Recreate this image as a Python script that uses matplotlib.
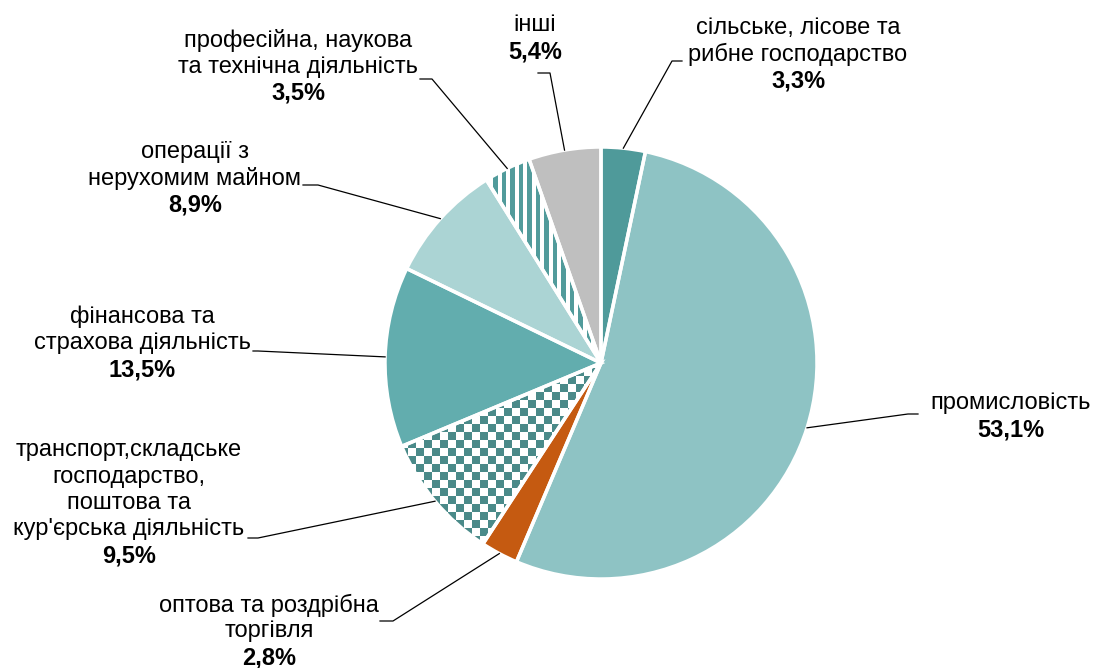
import numpy as np
import matplotlib
matplotlib.use('Agg')
import matplotlib.pyplot as plt

plt.rcParams['font.family'] = ['Liberation Sans', 'DejaVu Sans']

# shares of sectors, clockwise from the top
labels = ['сільське, лісове та\nрибне господарство',
          'промисловість',
          'оптова та роздрібна\nторгівля',
          'транспорт,складське\nгосподарство,\nпоштова та\nкур\'єрська діяльність',
          'фінансова та\nстрахова діяльність',
          'операції з\nнерухомим майном',
          'професійна, наукова\nта технічна діяльність',
          'інші']
values = [3.3, 53.1, 2.8, 9.5, 13.5, 8.9, 3.5, 5.4]
colors = ['#4F9A9A', '#8EC3C4', '#C55A11', 'white', '#62ADAE', '#ABD4D4', 'white', '#BFBFBF']

W, H = 1096, 668
cx, cy, r = 601, 363, 216   # pie centre/radius in pixels (y from top)

# label layout: centre x, y of first line, end of leader line (x, y), leader tail x
lab_pos = [(798, 28, 672, 61, 682),
           (1011, 403, 908, 414, 918),
           (269, 605, 393, 621, 380),
           (129, 450, 258, 538, 248),
           (142, 317, 258, 351, 253),
           (195, 152, 318, 185, 303),
           (298, 40, 432, 79, 420),
           (535, 25, 550, 73, 538)]

fig = plt.figure(figsize=(W / 100, H / 100), dpi=100)
ax = fig.add_axes([0, 0, 1, 1])

wedges, _ = ax.pie(values, colors=colors, startangle=90, counterclock=False,
                   center=(cx, H - cy), radius=r,
                   wedgeprops=dict(linewidth=0, zorder=1))

# patterned fills clipped to their wedges
yy, xx = np.mgrid[0:H, 0:W]
checker = ((xx // 8) + (yy // 8)) % 2 == 0
stripes = (xx % 8.5) < 4.5

def pattern_img(mask, col):
    rgb = np.array(matplotlib.colors.to_rgb(col))
    img = np.ones((H, W, 3))
    img[mask] = rgb
    return img

for idx, mask, col in [(3, checker, '#4A8A89'), (6, stripes, '#519B9B')]:
    im = ax.imshow(pattern_img(mask, col), extent=(0, W, 0, H), origin='upper',
                   interpolation='nearest', zorder=2)
    im.set_clip_path(wedges[idx])

# white borders on top
ax.pie(values, startangle=90, counterclock=False, center=(cx, H - cy), radius=r,
       wedgeprops=dict(facecolor='none', edgecolor='white', linewidth=2.5, zorder=3))

# labels with leader lines
for w, lab, val, (tx, ty, ex, ey, hx) in zip(wedges, labels, values, lab_pos):
    ang = np.deg2rad((w.theta1 + w.theta2) / 2)
    sx = cx + r * np.cos(ang)
    sy = H - cy + r * np.sin(ang)
    ax.plot([sx, ex, hx], [sy, H - ey, H - ey], color='black', linewidth=0.9, zorder=4)
    lines = lab.split('\n')
    for k, line in enumerate(lines):
        ax.text(tx, H - (ty + 26.5 * k), line, ha='center', va='center', fontsize=17)
    pct = ('%.1f%%' % val).replace('.', ',')
    ax.text(tx, H - (ty + 26.5 * len(lines)), pct, ha='center', va='center',
            fontsize=17, fontweight='bold')

ax.set_xlim(0, W)
ax.set_ylim(0, H)
ax.set_aspect('auto')
ax.axis('off')

fig.savefig('out.png', dpi=100)
